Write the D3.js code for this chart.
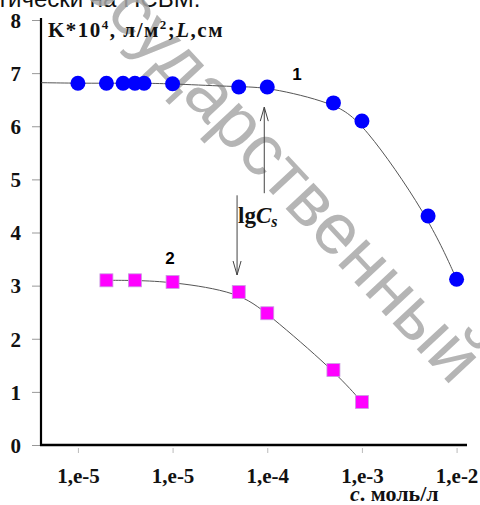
<!DOCTYPE html>
<html>
<head>
<meta charset="utf-8">
<script src="https://cdn.jsdelivr.net/npm/d3@7"></script>
<style>
  body { margin: 0; background: #fff; }
  svg { display: block; }
  .tick-label { font-family: "Liberation Serif", "Times New Roman", serif; font-weight: bold; font-size: 21px; }
</style>
</head>
<body>
<div id="chart"></div>
<script>
// data
const conc1 = [1e-6, 2e-6, 3e-6, 4e-6, 5e-6, 1e-5, 5e-5, 1e-4, 5e-4, 1e-3, 5e-3, 1e-2];
const value1 = [6.81, 6.81, 6.81, 6.81, 6.81, 6.80, 6.74, 6.74, 6.44, 6.10, 4.31, 3.12];
const conc2 = [2e-6, 4e-6, 1e-5, 5e-5, 1e-4, 5e-4, 1e-3];
const value2 = [3.10, 3.10, 3.07, 2.88, 2.48, 1.41, 0.81];
const fit1Start = [4.1e-7, 6.82];   // where curve 1 meets the y axis

const xTicks = [1e-6, 1e-5, 1e-4, 1e-3, 1e-2];
const xTickLabels = ['1,e-5', '1,e-5', '1,e-4', '1,e-3', '1,e-2'];
const yTicks = [0, 1, 2, 3, 4, 5, 6, 7, 8];

// arrows: [conc, fromValue, toValue]
const arrowUp = [9.3e-5, 4.74, 6.36];
const arrowDown = [4.8e-5, 4.70, 3.20];

const width = 480;
const height = 505;

const svg = d3.select('#chart')
  .append('svg')
  .attr('width', width)
  .attr('height', height);

const xScale = d3.scaleLog()
  .domain([Math.pow(10, -6.39), Math.pow(10, -1.89)])
  .range([41, 467]);

const yScale = d3.scaleLinear()
  .domain([0, 8])
  .range([445, 20]);

// cropped caption at the very top
svg.append('text')
  .attr('x', -3)
  .attr('y', 7)
  .style('font-family', 'Arial, "Liberation Sans", sans-serif')
  .style('font-size', '24px')
  .attr('fill', '#111')
  .text('тически на ПСВМ.');

// watermark
svg.append('text')
  .attr('transform', 'translate(452,387) rotate(47)')
  .attr('text-anchor', 'end')
  .style('font-family', 'Arial, "Liberation Sans", sans-serif')
  .style('font-size', '72px')
  .attr('fill', '#a8a8a8')
  .attr('fill-opacity', 0.85)
  .text('государственный');

// axes
const xAxis = d3.axisBottom(xScale)
  .tickValues(xTicks)
  .tickSize(7)
  .tickFormat((d, i) => xTickLabels[i]);

const yAxis = d3.axisLeft(yScale)
  .tickValues(yTicks)
  .tickSize(8)
  .tickFormat(d3.format('d'));

const gx = svg.append('g')
  .attr('class', 'xaxis')
  .attr('transform', 'translate(0,446)')
  .call(xAxis);
gx.select('.domain').remove();
gx.selectAll('.tick line').attr('stroke', '#bbb').attr('y1', 2);
gx.selectAll('.tick text')
  .attr('class', 'tick-label')
  .attr('fill', '#111')
  .attr('dy', 0)
  .attr('y', 37);

const gy = svg.append('g')
  .attr('class', 'yaxis')
  .attr('transform', 'translate(40,0)')
  .call(yAxis);
gy.select('.domain').remove();
gy.selectAll('.tick line').attr('stroke', '#999');
gy.selectAll('.tick text')
  .attr('class', 'tick-label')
  .attr('fill', '#111')
  .attr('x', -19)
  .attr('dy', '0.35em');

// axis lines
svg.append('line')
  .attr('x1', 41).attr('x2', 41)
  .attr('y1', yScale(8) - 2).attr('y2', yScale(0) + 1)
  .attr('stroke', '#000').attr('stroke-width', 2.2);
svg.append('line')
  .attr('x1', 40).attr('x2', xScale.range()[1])
  .attr('y1', yScale(0)).attr('y2', yScale(0))
  .attr('stroke', '#000').attr('stroke-width', 2.5);

// fitted curves
const line = d3.line()
  .x(d => xScale(d[0]))
  .y(d => yScale(d[1]))
  .curve(d3.curveBasis);

const pts1 = conc1.map((c, i) => [c, value1[i]]);
const pts2 = conc2.map((c, i) => [c, value2[i]]);

svg.append('path')
  .datum([fit1Start].concat(pts1))
  .attr('d', line)
  .attr('fill', 'none')
  .attr('stroke', '#555')
  .attr('stroke-width', 1);

svg.append('path')
  .datum(pts2)
  .attr('d', line)
  .attr('fill', 'none')
  .attr('stroke', '#555')
  .attr('stroke-width', 1);

// arrows
function drawArrow(a) {
  const x = xScale(a[0]);
  const y1 = yScale(a[1]);
  const y2 = yScale(a[2]);
  const dir = y2 < y1 ? 1 : -1;
  const g = svg.append('g').attr('stroke', '#444').attr('fill', 'none').attr('stroke-width', 1);
  g.append('line').attr('x1', x).attr('x2', x).attr('y1', y1).attr('y2', y2);
  g.append('path')
    .attr('d', `M${x - 4},${y2 + dir * 14}L${x},${y2}L${x + 4},${y2 + dir * 14}`);
}
drawArrow(arrowUp);
drawArrow(arrowDown);

// series 1: circles
svg.append('g').attr('class', 'dots')
  .selectAll('circle')
  .data(pts1)
  .enter()
  .append('circle')
  .attr('cx', d => xScale(d[0]))
  .attr('cy', d => yScale(d[1]))
  .attr('r', 7.5)
  .attr('fill', '#0000ff');

// series 2: squares
svg.append('g').attr('class', 'squares')
  .selectAll('rect')
  .data(pts2)
  .enter()
  .append('rect')
  .attr('x', d => xScale(d[0]) - 6.5)
  .attr('y', d => yScale(d[1]) - 6.5)
  .attr('width', 13)
  .attr('height', 13)
  .attr('fill', '#ff00ff')
  .attr('stroke', '#c8a0e0')
  .attr('stroke-width', 0.8);

// series labels
const sansBold = 'Arial, "Liberation Sans", sans-serif';
svg.append('text')
  .attr('x', 297).attr('y', 80)
  .attr('text-anchor', 'middle')
  .style('font-family', sansBold).style('font-weight', 'bold').style('font-size', '17px')
  .text('1');
svg.append('text')
  .attr('x', 170).attr('y', 264)
  .attr('text-anchor', 'middle')
  .style('font-family', sansBold).style('font-weight', 'bold').style('font-size', '17px')
  .text('2');

// lgCs annotation
const lg = svg.append('text')
  .attr('x', 238).attr('y', 223)
  .style('font-family', '"Liberation Serif", "Times New Roman", serif')
  .style('font-weight', 'bold')
  .style('font-size', '23px')
  .attr('fill', '#111');
lg.append('tspan').text('lg');
lg.append('tspan').style('font-style', 'italic').text('C');
lg.append('tspan').style('font-style', 'italic').style('font-size', '16px').attr('dy', 4).text('s');

// y axis title
const yt = svg.append('text')
  .attr('x', 48).attr('y', 37)
  .style('font-family', '"Liberation Serif", "Times New Roman", serif')
  .style('font-weight', 'bold')
  .style('font-size', '21px')
  .style('letter-spacing', '1.5px')
  .attr('fill', '#111');
yt.append('tspan').text('K*10');
yt.append('tspan').style('font-size', '13px').attr('dy', -8).text('4');
yt.append('tspan').attr('dy', 8).text(', л/м');
yt.append('tspan').style('font-size', '13px').attr('dy', -8).text('2');
yt.append('tspan').attr('dy', 8).text(';');
yt.append('tspan').style('font-style', 'italic').text('L');
yt.append('tspan').text(',см');

// x axis title
const xt = svg.append('text')
  .attr('x', 350).attr('y', 501)
  .style('font-family', '"Liberation Serif", "Times New Roman", serif')
  .style('font-weight', 'bold')
  .style('font-size', '22px')
  .attr('fill', '#111');
xt.append('tspan').style('font-style', 'italic').text('c');
xt.append('tspan').text('. моль/л');
</script>
</body>
</html>
